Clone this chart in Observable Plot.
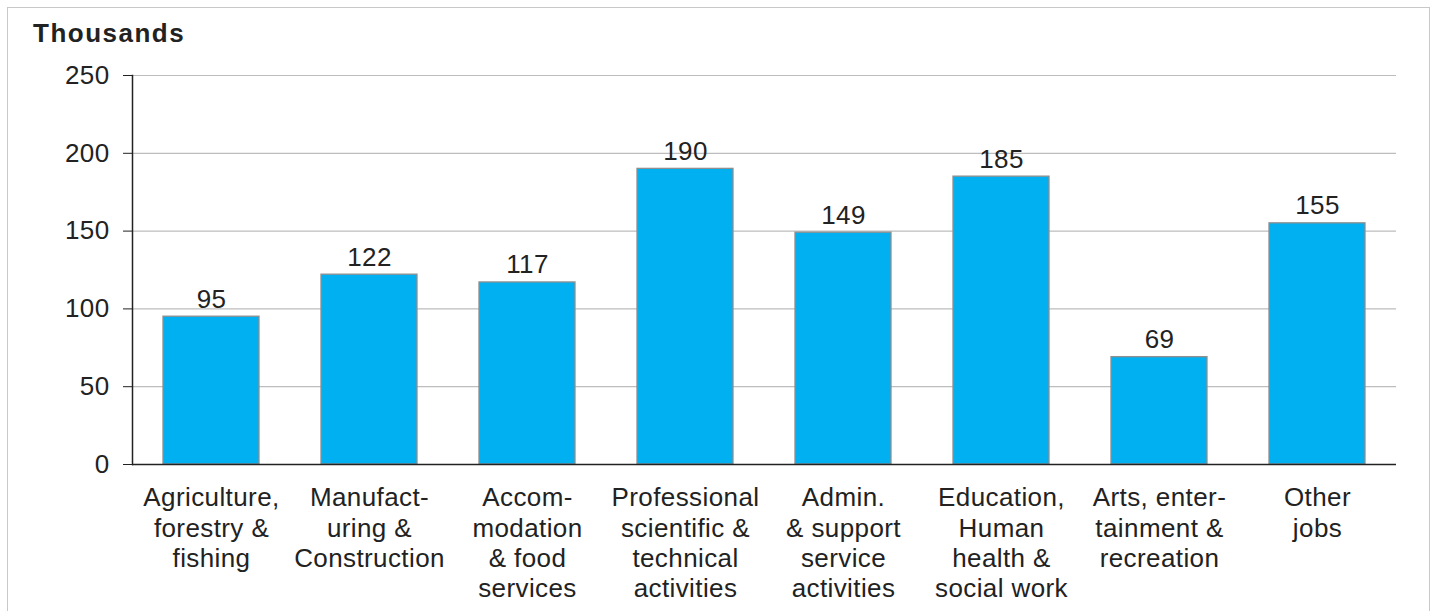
<!DOCTYPE html>
<html>
<head>
<meta charset="utf-8">
<script src="https://cdn.jsdelivr.net/npm/d3@7"></script>
<script src="https://cdn.jsdelivr.net/npm/@observablehq/plot@0.6"></script>
<style>
  html, body { margin: 0; padding: 0; background: #fff; }
  #wrap { position: relative; width: 1431px; height: 611px; overflow: hidden; }
  #frame { position: absolute; left: 7px; top: 7px; width: 1423px; height: 700px; border: 1.5px solid #c8c8c8; box-sizing: border-box; }
  #unit { position: absolute; left: 33px; top: 17px; font-family: "Liberation Sans", Arial, sans-serif; font-weight: bold; font-size: 26px; letter-spacing: 1.5px; color: #222; line-height: 32px; }
  #chart { position: absolute; left: 0; top: 0; }
  #chart svg text { letter-spacing: 0.4px; }
</style>
</head>
<body>
<div id="wrap">
  <div id="frame"></div>
  <div id="unit">Thousands</div>
  <div id="chart"></div>
</div>
<script>
const categories = [
  "Agriculture,\nforestry &\nfishing",
  "Manufact-\nuring &\nConstruction",
  "Accom-\nmodation\n& food\nservices",
  "Professional\nscientific &\ntechnical\nactivities",
  "Admin.\n& support\nservice\nactivities",
  "Education,\nHuman\nhealth &\nsocial work",
  "Arts, enter-\ntainment &\nrecreation",
  "Other\njobs"
];
const values = [95, 122, 117, 190, 149, 185, 69, 155];
const yTicks = [0, 50, 100, 150, 200, 250];

const data = categories.map((c, i) => ({category: c, value: values[i]}));

const chart = Plot.plot({
  width: 1431,
  height: 611,
  marginLeft: 132,
  marginRight: 35,
  marginTop: 75,
  marginBottom: 147,
  style: {fontFamily: "'Liberation Sans', Arial, sans-serif", color: "#222", background: "transparent"},
  x: {domain: categories, paddingInner: 0.39, paddingOuter: 0.195, label: null},
  y: {domain: [0, 250], ticks: yTicks, label: null},
  marks: [
    Plot.gridY(yTicks, {stroke: "#bdbdbd", strokeOpacity: 1, strokeWidth: 1.2}),
    Plot.barY(data, {x: "category", y: "value", fill: "#00B0F0", stroke: "#8f8f8f", strokeWidth: 1.3}),
    Plot.text(data, {x: "category", y: "value", text: d => String(d.value), lineAnchor: "bottom", dy: -9, fontSize: 26, fill: "#222"}),
    Plot.axisY(yTicks, {tickSize: 9, tickPadding: 14, fontSize: 26, stroke: "#222", fill: "#222", label: null}),
    Plot.frame({anchor: "left", stroke: "#222", strokeWidth: 1.5}),
    Plot.ruleY([0], {stroke: "#222", strokeWidth: 1.5}),
    Plot.axisX({tickSize: 0, tickPadding: 20, fontSize: 26, lineHeight: 1.17, fill: "#222", label: null})
  ]
});
document.getElementById("chart").appendChild(chart);
</script>
</body>
</html>
